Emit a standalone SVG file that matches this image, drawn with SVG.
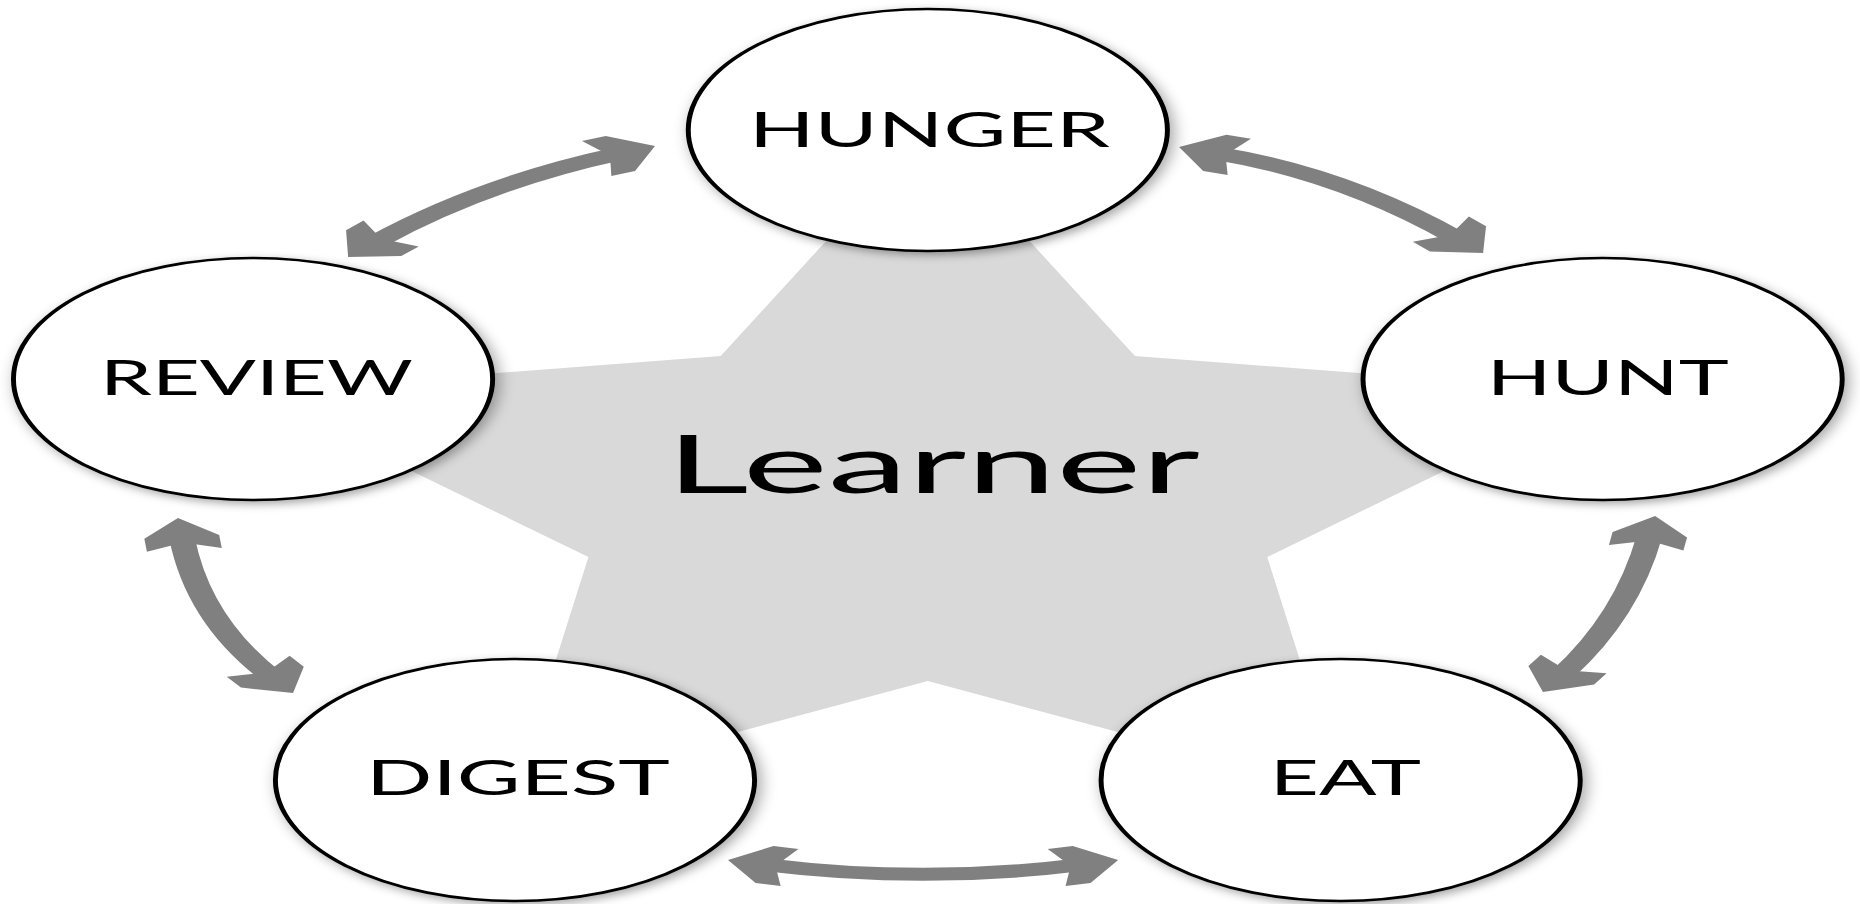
<svg xmlns="http://www.w3.org/2000/svg" width="1860" height="904" viewBox="0 0 1860 904">
<defs>
<style>
.node ellipse, .node circle{fill:#fff;stroke:#000;stroke-width:2.5;filter:url(#sh)}
.lbl{font-family:Lato,"Open Sans","Liberation Sans",sans-serif;font-size:48px;fill:#000;text-anchor:middle}
.big{font-family:Lato,"Open Sans","Liberation Sans",sans-serif;font-size:82px;fill:#000;text-anchor:middle}
.shaft{fill:none;stroke:#808080;stroke-width:13;marker-start:url(#ah);marker-end:url(#ah)}
</style>
<filter id="sh" x="-20%" y="-20%" width="140%" height="140%">
<feDropShadow dx="2" dy="3" stdDeviation="4" flood-color="#000" flood-opacity="0.35"/>
</filter>
<marker id="ah" markerUnits="userSpaceOnUse" viewBox="-34 -21 36 42" markerWidth="36" markerHeight="42" refX="-20" refY="0" orient="auto-start-reverse" overflow="visible">
<path d="M0,0 L-19,-19 L-32,-19 L-27,-6 L-27,6 L-32,19 L-19,19 Z" fill="#808080"/>
</marker>
</defs>
<rect width="1860" height="904" fill="#fff"/>
<g transform="scale(1.98,1)">
<g id="star">
<polygon fill="#d9d9d9" points="468.6,130 573.2,356 811.4,392 640,557 677.6,792 468.6,681 259.6,792 297.2,557 125.8,392 364,356"/>
</g>
<g id="connectors">
<path class="shaft" d="M189.4,242.3 Q244.7,182.5 312.4,153.8"/>
<path class="shaft" d="M614.5,153.2 Q678.35,174 735.7,238.1"/>
<path class="shaft" d="M833.1,535.8 Q821.6,616 789,674.5"/>
<path class="shaft" d="M387.1,864.7 Q466.2,884 545.3,864.7"/>
<path class="shaft" d="M91.9,537.9 Q100.25,620.5 137,676.3"/>
</g>
<g id="hunger" class="node"><circle cx="468.6" cy="130" r="121"/><text class="lbl" x="469.4" y="147" textLength="182.3" lengthAdjust="spacingAndGlyphs">HUNGER</text></g>
<g id="hunt" class="node"><circle cx="809.4" cy="379" r="121"/><text class="lbl" x="812" y="395" textLength="122.2" lengthAdjust="spacingAndGlyphs">HUNT</text></g>
<g id="review" class="node"><circle cx="127.8" cy="379" r="121"/><text class="lbl" x="129.5" y="395" textLength="158" lengthAdjust="spacingAndGlyphs">REVIEW</text></g>
<g id="digest" class="node"><circle cx="260.1" cy="780" r="121"/><text class="lbl" x="261.6" y="795" textLength="153.5" lengthAdjust="spacingAndGlyphs">DIGEST</text></g>
<g id="eat" class="node"><circle cx="677.1" cy="780" r="121"/><text class="lbl" x="679.5" y="795" textLength="76.3" lengthAdjust="spacingAndGlyphs">EAT</text></g>
<g id="learner"><text class="big" x="471.2" y="493" textLength="269.7" lengthAdjust="spacingAndGlyphs">Learner</text></g>
</g>
</svg>
